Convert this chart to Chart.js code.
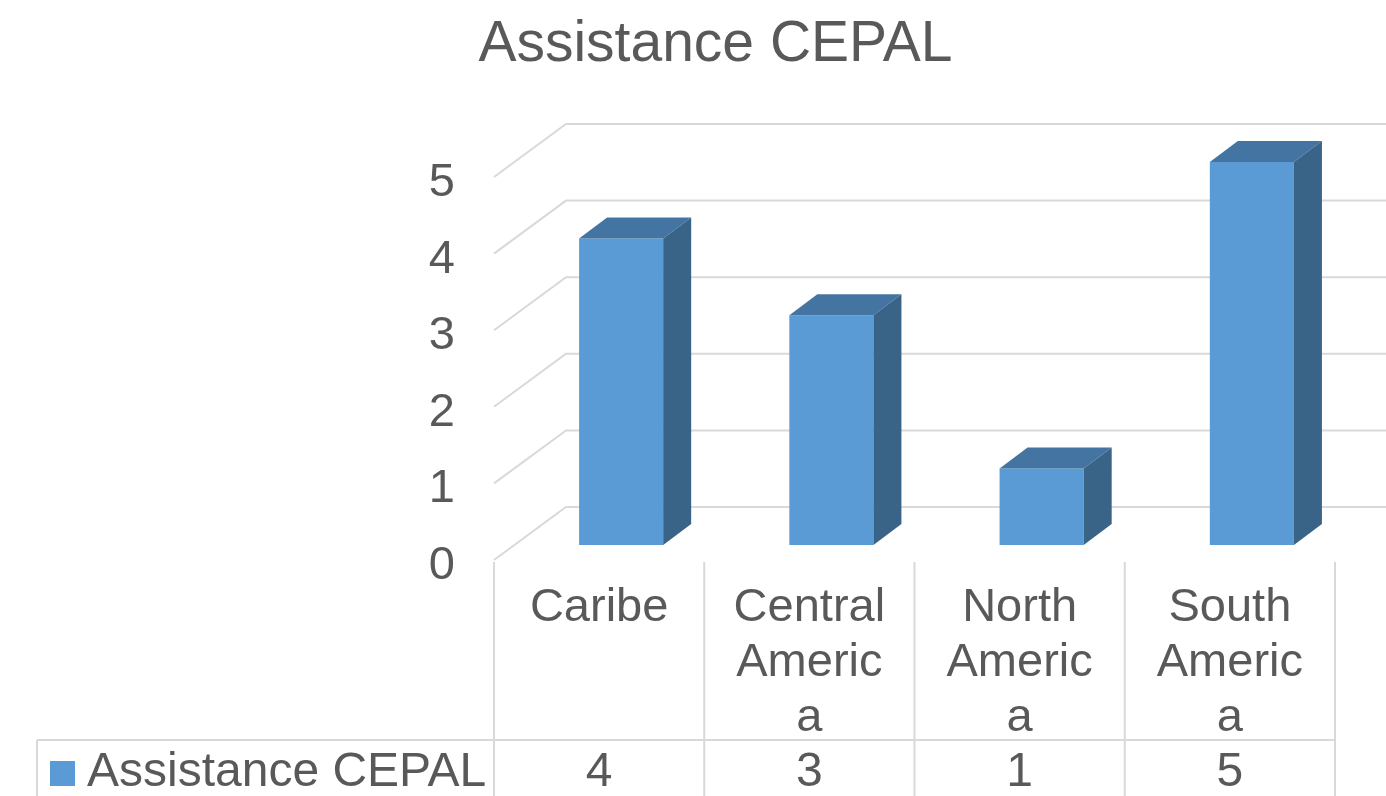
<!DOCTYPE html>
<html>
<head>
<meta charset="utf-8">
<script src="https://cdn.jsdelivr.net/npm/chart.js@4"></script>
<style>
  html, body { margin: 0; padding: 0; background: #fff; }
</style>
</head>
<body>
<canvas id="myChart" width="1386" height="796"></canvas>
<script>
// Chart data ---------------------------------
const chartTitle = 'Assistance CEPAL';
const seriesName = 'Assistance CEPAL';
const categories = [['Caribe'], ['Central', 'Americ', 'a'], ['North', 'Americ', 'a'], ['South', 'Americ', 'a']];
const values = [4, 3, 1, 5];
const yTicks = [0, 1, 2, 3, 4, 5];

// Look
const textColor = '#595959';
const gridColor = '#d9d9d9';
const barFront = '#5b9bd5';
const barTop = '#4474a1';
const barSide = '#396387';
const depth = {x: 28, y: -21};     // bar depth
const shiftX = -22;                  // floor front edge vs bar front plane
const wallFrontY = 15, wallBackY = -38, wallDepthX = 72;
Chart.defaults.font.family = '"Liberation Sans", Arial, sans-serif';
Chart.defaults.color = textColor;

// 3D walls, bar sides and data table
const threeD = {
  id: 'threeD',
  beforeDatasetsDraw(chart) {
    const {ctx, chartArea, scales: {x, y}} = chart;
    const fx = chartArea.left + shiftX;
    ctx.save();
    ctx.strokeStyle = gridColor;
    ctx.lineWidth = 2;
    yTicks.forEach(v => {
      const py = y.getPixelForValue(v);
      ctx.beginPath();
      ctx.moveTo(fx, py + wallFrontY);
      ctx.lineTo(fx + wallDepthX, py + wallBackY);
      ctx.lineTo(chart.width, py + wallBackY);
      ctx.stroke();
    });
    ctx.restore();
  },
  afterDatasetsDraw(chart) {
    const {ctx} = chart;
    const meta = chart.getDatasetMeta(0);
    ctx.save();
    meta.data.forEach(bar => {
      const {x, y, base, width} = bar.getProps(['x', 'y', 'base', 'width'], true);
      const l = x - width / 2, r = x + width / 2;
      ctx.fillStyle = barTop;
      ctx.beginPath();
      ctx.moveTo(l, y);
      ctx.lineTo(l + depth.x, y + depth.y);
      ctx.lineTo(r + depth.x, y + depth.y);
      ctx.lineTo(r, y);
      ctx.closePath();
      ctx.fill();
      ctx.fillStyle = barSide;
      ctx.beginPath();
      ctx.moveTo(r, y);
      ctx.lineTo(r + depth.x, y + depth.y);
      ctx.lineTo(r + depth.x, base + depth.y);
      ctx.lineTo(r, base);
      ctx.closePath();
      ctx.fill();
    });
    ctx.restore();
  },
  afterDraw(chart) {
    const {ctx, scales: {x, y}} = chart;
    const colW = x.getPixelForValue(1) - x.getPixelForValue(0);
    const top = y.getPixelForValue(0) + wallFrontY + 2;
    const rowTop = x.bottom;
    const rowMid = rowTop + 33;
    const edges = categories.map((c, i) => x.getPixelForValue(i) + shiftX - colW / 2);
    edges.push(edges[edges.length - 1] + colW);
    ctx.save();
    ctx.strokeStyle = gridColor;
    ctx.lineWidth = 2;
    ctx.beginPath();
    edges.forEach(ex => { ctx.moveTo(ex, top); ctx.lineTo(ex, chart.height); });
    ctx.moveTo(37, rowTop); ctx.lineTo(edges[edges.length - 1], rowTop);
    ctx.moveTo(37, rowTop); ctx.lineTo(37, chart.height);
    ctx.stroke();
    // legend key + series name
    ctx.fillStyle = barFront;
    ctx.fillRect(50, rowMid - 12, 25, 25);
    ctx.fillStyle = textColor;
    ctx.font = '48px "Liberation Sans", Arial, sans-serif';
    ctx.textBaseline = 'middle';
    ctx.textAlign = 'left';
    ctx.fillText(seriesName, 87, rowMid);
    ctx.textAlign = 'center';
    values.forEach((v, i) => ctx.fillText(String(v), x.getPixelForValue(i) + shiftX, rowMid));
    ctx.restore();
  }
};

// Chart information---------------------------------
const ctx = document.getElementById('myChart').getContext('2d');
const myChart = new Chart(ctx, {
  type: 'bar',
  data: {
    labels: categories,
    datasets: [{
      label: seriesName,
      data: values,
      backgroundColor: barFront,
      barPercentage: 0.4,
      categoryPercentage: 1
    }]
  },
  options: {
    responsive: false,
    animation: false,
    layout: {padding: {left: 74, right: 29, top: 0, bottom: 56}},
    plugins: {
      legend: {display: false},
      tooltip: {enabled: false},
      title: {
        display: true,
        text: chartTitle,
        color: textColor,
        font: {size: 57, weight: 'normal'},
        padding: {top: 11, bottom: 82.6}
      }
    },
    scales: {
      x: {
        grid: {display: false, drawTicks: false},
        border: {display: false},
        ticks: {
          padding: 36,
          labelOffset: shiftX,
          maxRotation: 0,
          autoSkip: false,
          color: textColor,
          font: {size: 47, lineHeight: '55px'}
        },
        afterFit(s) { s.height = 195; }
      },
      y: {
        min: 0,
        max: 5,
        grid: {display: false, drawTicks: false},
        border: {display: false},
        afterBuildTicks(s) { s.ticks = yTicks.map(v => ({value: v})); },
        ticks: {
          padding: 61,
          labelOffset: 21,
          color: textColor,
          font: {size: 47}
        },
        afterFit(s) { s.width = 442; }
      }
    }
  },
  plugins: [threeD]
});
</script>
</body>
</html>
